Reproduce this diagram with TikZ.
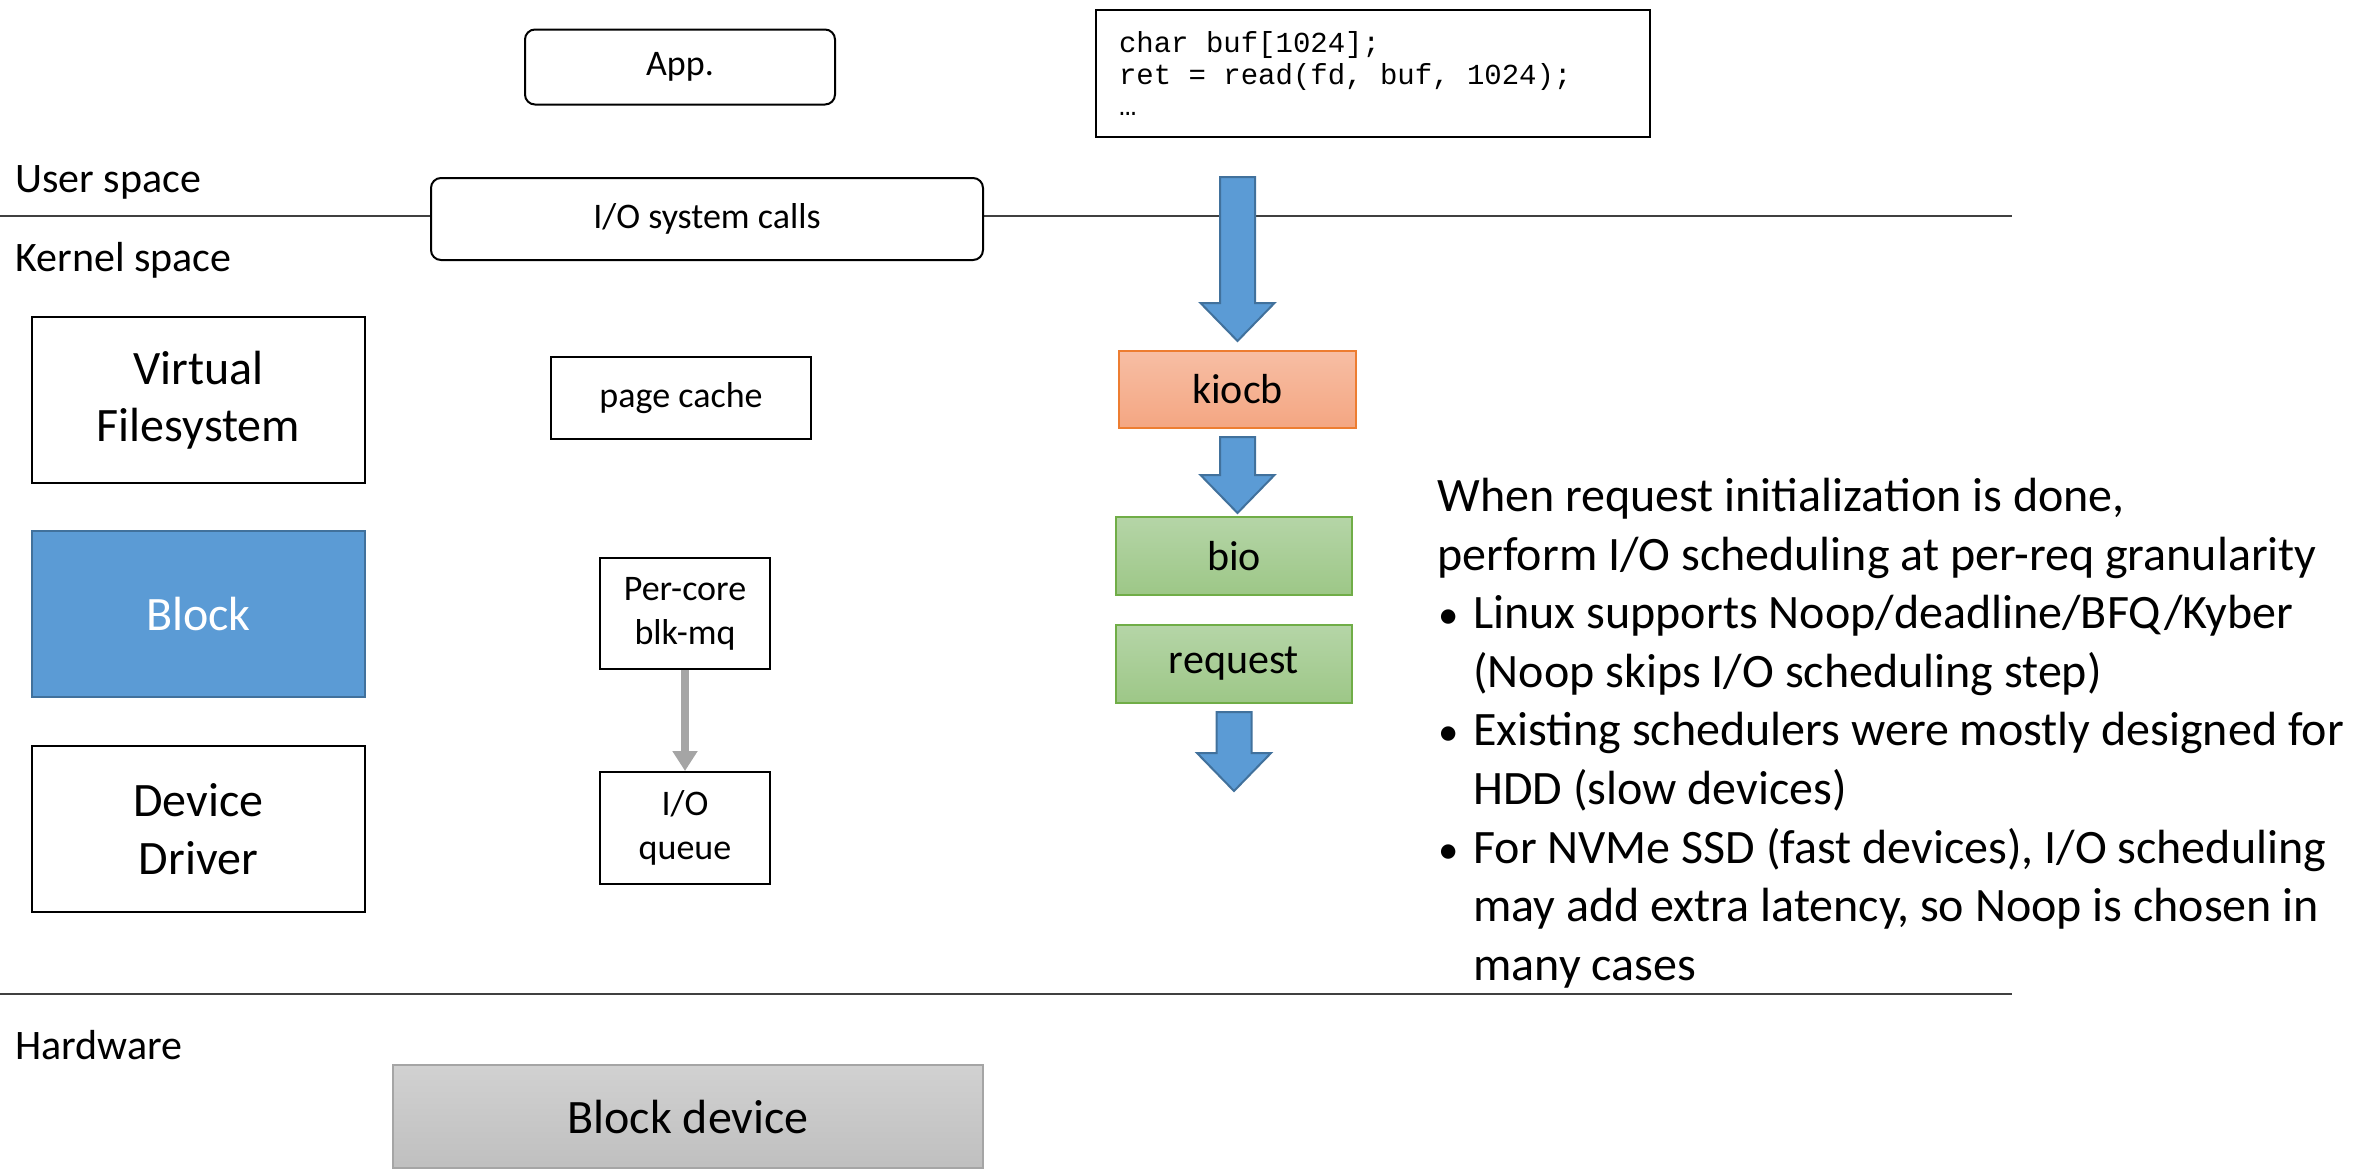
\documentclass[tikz,border=0pt]{standalone}
\usepackage{fontspec}
\setmainfont{Carlito}
\setmonofont{Liberation Mono}
\usetikzlibrary{positioning,arrows.meta,calc}

\definecolor{msblue}{HTML}{5B9BD5}
\definecolor{msblueedge}{HTML}{41719C}
\definecolor{msorange}{HTML}{ED7D31}
\definecolor{msgreen}{HTML}{70AD47}
\definecolor{msgray}{HTML}{A5A5A5}
\definecolor{kiocbtop}{RGB}{247,190,164}
\definecolor{kiocbbot}{RGB}{244,166,130}
\definecolor{biotop}{RGB}{181,213,167}
\definecolor{biobot}{RGB}{157,199,135}

% block arrow from top point #1 to tip #2
\newcommand{\fatarrow}[2]{%
  \path #1 coordinate (fa-top) #2 coordinate (fa-tip);
  \draw[fatarrow] ($(fa-top)+(-17.5,0)$) -- ($(fa-tip)+(-17.5,-38)$) -- ++(-19.5,0)
    -- (fa-tip) -- ($(fa-tip)+(37,-38)$) -- ++(-19.5,0) -- ($(fa-top)+(17.5,0)$) -- cycle;}
% one monospaced blank
\newcommand{\csp}{\hphantom{x}}
\newcommand{\bul}{\makebox[18pt][l]{\hspace{0.5pt}\scalebox{0.85}{\textbullet}}}

\begin{document}
\begin{tikzpicture}[x=0.5pt,y=-0.5pt,
    layerbox/.style={rectangle,draw,line width=1pt,inner sep=0,align=center,
		minimum width=166.5pt,minimum height=83pt,font=\fontsize{24}{28.8}\selectfont},
    smallbox/.style={rectangle,draw,line width=1pt,inner sep=0,align=center,
		font=\fontsize{18}{22}\selectfont},
    rbox/.style={smallbox,rounded corners=5pt,fill=white},
% kernel objects
    objbox/.style={rectangle,line width=1pt,inner sep=0,minimum width=118pt,
		minimum height=39pt,font=\fontsize{21}{25}\selectfont},
    kiocbbox/.style={objbox,draw=msorange,top color=kiocbtop,bottom color=kiocbbot},
    biobox/.style={objbox,draw=msgreen,top color=biotop,bottom color=biobot},
    fatarrow/.style={draw=msblueedge,fill=msblue,line width=1pt},
    grayarrow/.style={draw=msgray,line width=4pt,-{Triangle[width=12pt,length=10pt]}},
    sepline/.style={draw=black!75,line width=1pt},
    spacelabel/.style={anchor=west,inner sep=0,font=\fontsize{21}{25}\selectfont}
    ]
   \useasboundingbox (0,0) rectangle (2372,1168);
%%% layer separators
   \draw[sepline] (0,216) -- (2012,216);
   \draw[sepline] (0,994) -- (2012,994);
   \node[spacelabel] (user) at (15,182) {User space};
   \node[spacelabel] (kernel) at (15,260) {Kernel space};
   \node[spacelabel] (hw) at (15,1045) {Hardware};

%%% left column
   \node[layerbox] (vfs) at (198.5,400) {Virtual\\Filesystem};
   \node[layerbox,fill=msblue,draw=msblueedge,text=white] (block) [below=23pt of vfs] {Block};
   \node[layerbox] (driver) [below=23.5pt of block] {Device\\Driver};

%%% middle column
   \node[rbox,minimum width=155pt,minimum height=37.5pt] (app) at (680,67) {App.};
   \node[rbox,minimum width=276pt,minimum height=41pt] (iosys) at (707,219) {I/O system calls};
   \node[smallbox,minimum width=130pt,minimum height=41pt] (pcache) at (681,398) {page cache};
   \node[smallbox,minimum width=85pt,minimum height=55.5pt] (blkmq) at (685,613.5) {Per-core\\blk-mq};
   \node[smallbox,minimum width=85pt,minimum height=56pt] (ioqueue) [below=50.5pt of blkmq] {I/O\\queue};
   \draw[grayarrow] (blkmq) -- (ioqueue);
   \node[rectangle,draw=msgray,line width=1pt,top color=black!18,bottom color=black!25,
		minimum width=295pt,minimum height=51.5pt,inner sep=0,
		font=\fontsize{24}{28.8}\selectfont] (blkdev) at (688,1116.5) {Block device};

%%% request path
   \node[rectangle,draw,line width=1pt,anchor=north west,inner xsep=11.5pt,inner ysep=0,
		minimum height=63.5pt,text width=254pt,align=left,
		font=\ttfamily\fontsize{14.5}{15.75}\selectfont] (code) at (1095,9)
		{char\csp buf[1024];\\ret\csp=\csp read(fd,\csp buf,\csp 1024);\\…};
   \node[kiocbbox,minimum width=118.5pt,minimum height=38.5pt] (kiocb) at (1237.5,389.5) {kiocb};
   \node[biobox] (bio) at (1234,556) {bio};
   \node[biobox] (request) [below=14pt of bio] {request};
   \fatarrow{(kiocb.north |- iosys.north)}{($(kiocb.north)+(0,-9)$)}
   \fatarrow{($(kiocb.south)+(0,8)$)}{($(kiocb.south |- bio.north)+(0,-3)$)}
   \fatarrow{($(request.south)+(0,8)$)}{($(request.south)+(0,87)$)}

%%% notes
   \node[anchor=north west,inner sep=0,font=\fontsize{24}{29.3}\selectfont] (notes) at (1437,470) {%
	\begin{tabular}{@{}l@{}l@{}}
	\multicolumn{2}{@{}l@{}}{When request initialization is done,}\\
	\multicolumn{2}{@{}l@{}}{perform I/O scheduling at per-req granularity}\\
	\bul & Linux supports Noop/deadline/BFQ/Kyber\\
	 & (Noop skips I/O scheduling step)\\
	\bul & Existing schedulers were mostly designed for\\
	 & HDD (slow devices)\\
	\bul & For NVMe SSD (fast devices), I/O scheduling\\
	 & may add extra latency, so Noop is chosen in\\
	 & many cases
	\end{tabular}};
\end{tikzpicture}
\end{document}
